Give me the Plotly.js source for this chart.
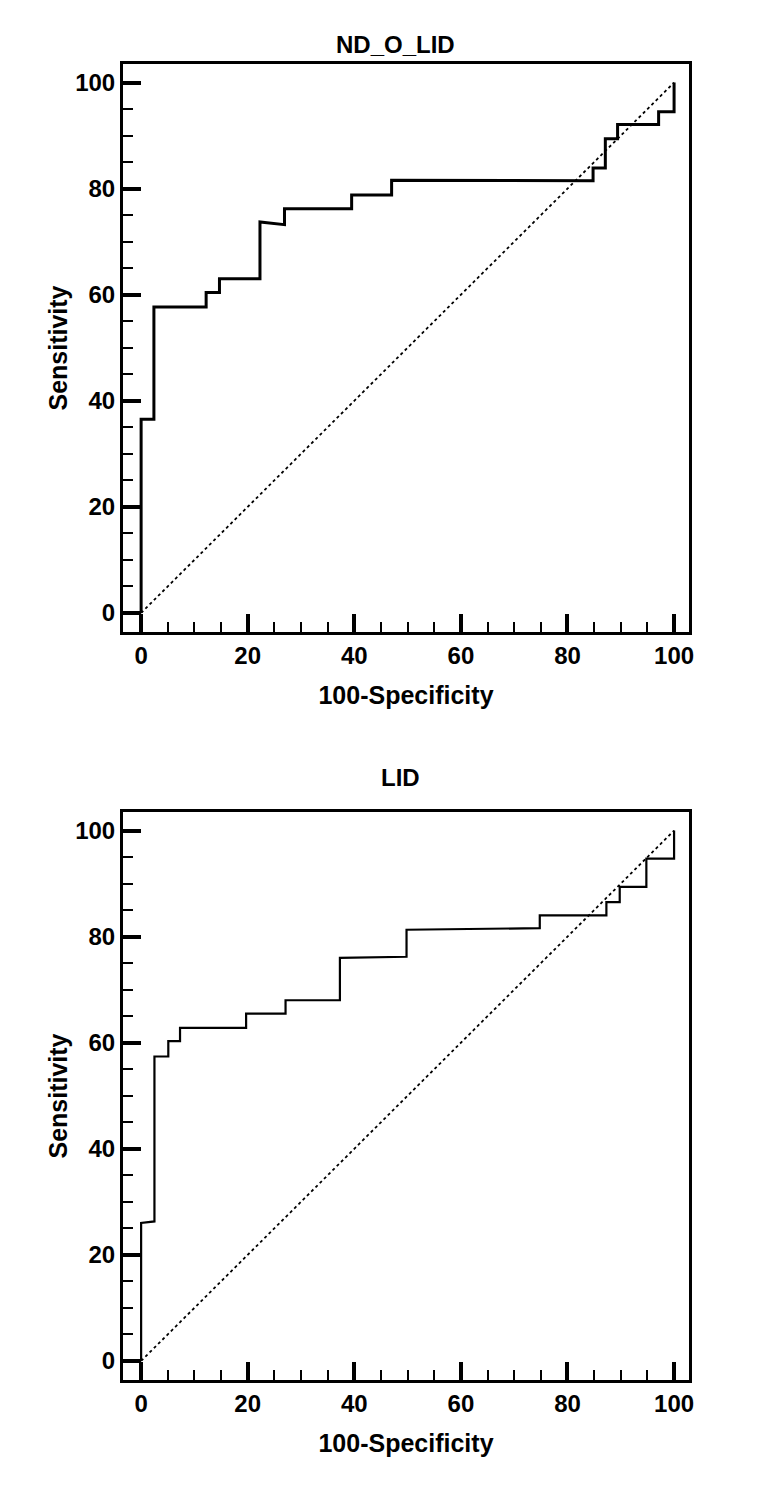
<!DOCTYPE html>
<html>
<head>
<meta charset="utf-8">
<script src="https://cdn.plot.ly/plotly-3.0.1.min.js"></script>
<style>html,body{margin:0;padding:0;background:#fff}#chart{width:782px;height:1491px}</style>
</head>
<body>
<div id="chart"></div>
<script>
// ND_O_LID ROC curve (100-Specificity vs Sensitivity)
const fprTop  = [0, 0, 2.4, 2.4, 12.2, 12.2, 14.7, 14.7, 22.3, 22.3, 26.9, 26.9, 39.5, 39.5, 47.0, 47.0, 84.8, 84.8, 87.1, 87.1, 89.4, 89.4, 97.1, 97.1, 100, 100];
const sensTop = [0, 36.5, 36.5, 57.7, 57.7, 60.4, 60.4, 63.0, 63.0, 73.7, 73.2, 76.2, 76.2, 78.8, 78.8, 81.6, 81.5, 83.9, 83.9, 89.4, 89.4, 92.1, 92.1, 94.5, 94.5, 100];
// LID ROC curve
const fprBot  = [0, 0, 2.5, 2.5, 5.1, 5.1, 7.3, 7.3, 19.7, 19.7, 27.1, 27.1, 37.3, 37.3, 49.8, 49.8, 74.8, 74.8, 87.3, 87.3, 89.8, 89.8, 94.8, 94.8, 100, 100];
const sensBot = [0, 26.0, 26.3, 57.4, 57.4, 60.3, 60.3, 62.8, 62.8, 65.5, 65.5, 68.0, 68.0, 76.0, 76.2, 81.3, 81.6, 84.0, 84.0, 86.5, 86.5, 89.4, 89.4, 94.7, 94.7, 100];
const diagX = [0, 100];
const diagY = [0, 100];
const titles = ["ND_O_LID", "LID"];
const xTitle = "100-Specificity";
const yTitle = "Sensitivity";
const tickVals = [0, 20, 40, 60, 80, 100];

const FONT = "Liberation Sans, Arial, sans-serif";

const traces = [
  {x: diagX, y: diagY, xaxis: 'x', yaxis: 'y', mode: 'lines', line: {color: '#000', width: 1.8, dash: 'dot'}, hoverinfo: 'skip'},
  {x: fprTop, y: sensTop, xaxis: 'x', yaxis: 'y', mode: 'lines', line: {color: '#000', width: 3}},
  {x: diagX, y: diagY, xaxis: 'x2', yaxis: 'y2', mode: 'lines', line: {color: '#000', width: 1.8, dash: 'dot'}, hoverinfo: 'skip'},
  {x: fprBot, y: sensBot, xaxis: 'x2', yaxis: 'y2', mode: 'lines', line: {color: '#000', width: 2.2}}
];

function axis(domain, isX, anchor) {
  return {
    domain: domain,
    anchor: anchor,
    range: isX ? [-3.4, 102.8] : [-3.6, 103.5],
    showgrid: false, zeroline: false,
    showline: true, linecolor: '#000', linewidth: 3, mirror: true,
    ticks: 'inside', ticklen: 18, tickwidth: 4, tickcolor: '#000',
    tickmode: 'array', tickvals: tickVals, ticktext: tickVals.map(String),
    minor: {dtick: 5, ticks: 'inside', ticklen: 10, tickwidth: 2, tickcolor: '#000', showgrid: false},
    tickfont: {family: FONT, size: 24, color: '#000', weight: 'bold'},
    title: {text: isX ? xTitle : yTitle, font: {family: FONT, size: 25, color: '#000', weight: 'bold'}, standoff: isX ? 19 : 1},
    fixedrange: true
  };
}

const W = 782, H = 1491;
const xd = [123 / W, 689 / W];
const yTop = [1 - 632 / H, 1 - 64 / H];
const yBot = [1 - 1380 / H, 1 - 812 / H];

const layout = {
  width: W, height: H,
  margin: {l: 0, r: 0, t: 0, b: 0},
  paper_bgcolor: '#fff', plot_bgcolor: '#fff',
  showlegend: false,
  xaxis: axis(xd, true, 'y'),
  yaxis: axis(yTop, false, 'x'),
  xaxis2: axis(xd, true, 'y2'),
  yaxis2: axis(yBot, false, 'x2'),
  annotations: [
    {text: titles[0], xref: 'paper', yref: 'paper', x: 395 / W, y: 1 - 45 / H, xanchor: 'center', yanchor: 'middle', showarrow: false, font: {family: FONT, size: 24, color: '#000', weight: 'bold'}},
    {text: titles[1], xref: 'paper', yref: 'paper', x: 400 / W, y: 1 - 777 / H, xanchor: 'center', yanchor: 'middle', showarrow: false, font: {family: FONT, size: 24, color: '#000', weight: 'bold'}}
  ]
};

Plotly.newPlot('chart', traces, layout, {displayModeBar: false, staticPlot: true});
</script>
</body>
</html>
